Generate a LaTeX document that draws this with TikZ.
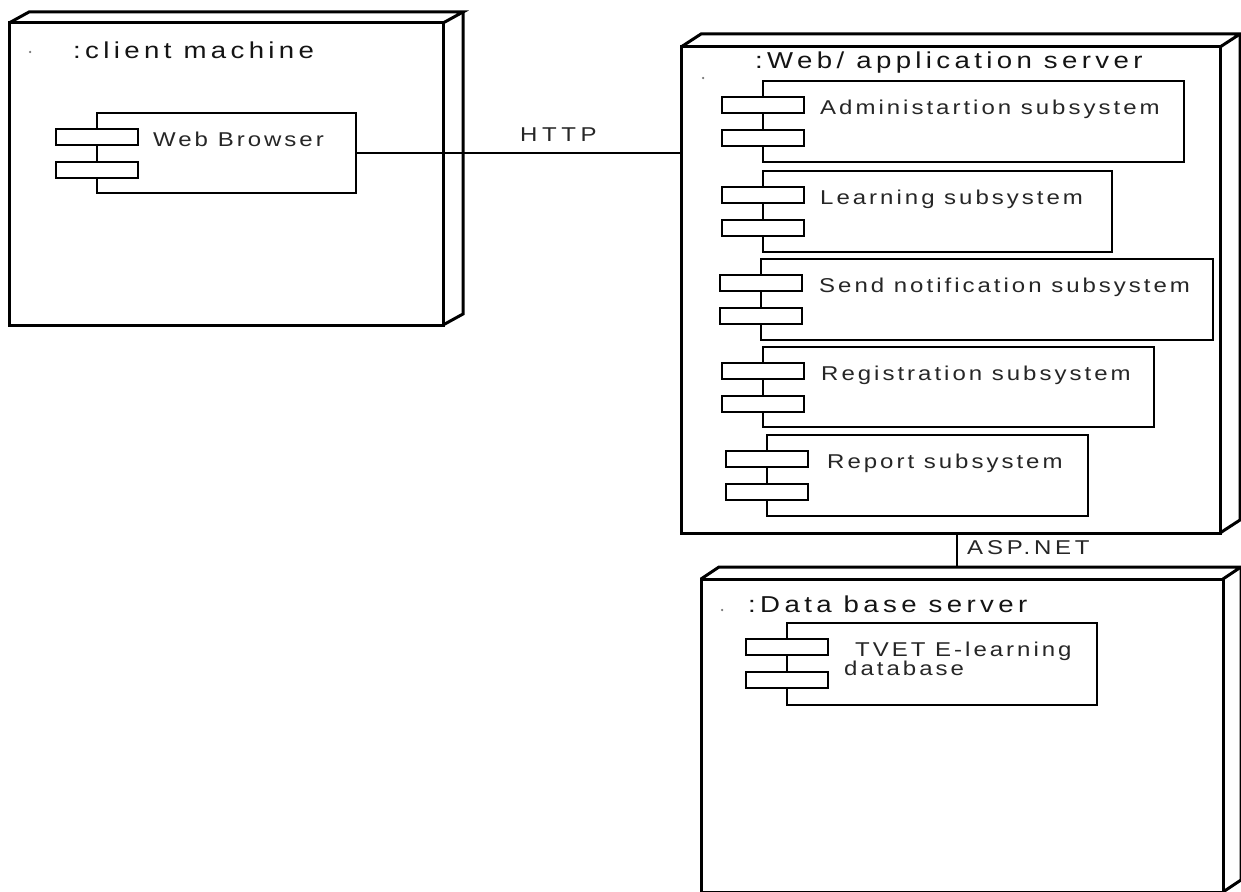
\documentclass[tikz,border=0pt]{standalone}
\usepackage{fontspec}
\setmainfont{Liberation Sans}
\definecolor{titleink}{HTML}{141414}
\definecolor{compink}{HTML}{262626}

\tikzset{
  frontface/.style={draw, line width=3pt, fill=white, anchor=north west,
    inner sep=0pt, outer sep=0pt},
  frame/.style={line width=3pt, line join=miter},
  compbody/.style={draw, line width=2.3pt, fill=white, anchor=north west,
    inner sep=0pt, outer sep=0pt},
  port/.style={draw, line width=2.3pt, fill=white, anchor=north west,
    minimum width=82pt, minimum height=16pt, inner sep=0pt, outer sep=0pt},
  comptext/.style={anchor=base west, inner sep=0pt, text=compink,
    font=\fontsize{20}{18}\selectfont\addfontfeature{FakeStretch=1.2,LetterSpace=15}},
  nodetitle/.style={anchor=base west, inner sep=0pt, text=titleink,
    font=\fontsize{23}{28}\selectfont\addfontfeature{FakeStretch=1.2,LetterSpace=19}},
  linklabel/.style={anchor=base west, inner sep=0pt, text=compink,
    font=\fontsize{20}{24}\selectfont\addfontfeature{FakeStretch=1.2,LetterSpace=19}},
  conn/.style={line width=2pt},
  dotmark/.style={circle, fill=black!55, inner sep=0pt, minimum size=2.5pt}
}

% deployment node: front face plus the top and right faces of the box
% #1 name, #2 x, #3 y (top-left), #4 width, #5 height, #6 depth x, #7 depth y
\newcommand\deploynode[7]{%
  \node[frontface, minimum width=#4pt, minimum height=#5pt] (#1) at (#2,#3) {};
  \coordinate (#1-bnw) at ([xshift=#6pt,yshift=#7pt]#1.north west);
  \coordinate (#1-bne) at ([xshift=#6pt,yshift=#7pt]#1.north east);
  \coordinate (#1-bse) at ([xshift=#6pt,yshift=#7pt]#1.south east);
  \draw[frame] (#1.north west) -- (#1-bnw) -- (#1-bne) -- (#1.north east);
  \draw[frame] (#1-bne) -- (#1-bse) -- (#1.south east);
}

% UML component: body, two ports on its left edge, and its name
% #1 name, #2 x, #3 y (top-left), #4 width, #5 height, #6 text, #7 text indent
\newcommand\umlcomp[7]{%
  \node[compbody, minimum width=#4pt, minimum height=#5pt] (#1) at (#2,#3) {};
  \node[port] (#1-p1) at ([xshift=-41pt,yshift=-16pt]#1.north west) {};
  \node[port] (#1-p2) at ([xshift=-41pt,yshift=-49pt]#1.north west) {};
  \node[comptext] (#1-t) at ([xshift=#7pt,yshift=-33pt]#1.north west) {#6};
}

\begin{document}
\begin{tikzpicture}[x=1pt, y=-1pt]
  \useasboundingbox (0,0) rectangle (1241,891);

  % client machine
  \deploynode{client}{9}{23}{434}{302}{20}{11}
  \node[dotmark] (client-dot) at (30,52) {};
  \node[nodetitle] (client-title) at (73,59) {:client machine};
  \umlcomp{wb}{97}{113}{259}{80}{Web Browser}{56}

  % web / application server
  \deploynode{web}{681}{47}{539}{486}{20}{13}
  \node[dotmark] (web-dot) at (703,78) {};
  \node[nodetitle] (web-title) at (755,68) {:Web/ application server};
  \umlcomp{adm}{763}{81}{421}{81}{Administartion subsystem}{57}
  \umlcomp{lrn}{763}{171}{349}{81}{Learning subsystem}{57}
  \umlcomp{snd}{761}{259}{452}{81}{Send notification subsystem}{58}
  \umlcomp{reg}{763}{347}{391}{80}{Registration subsystem}{58}
  \umlcomp{rep}{767}{435}{321}{81}{Report subsystem}{60}

  % database server
  \deploynode{db}{701}{579}{522}{313}{18}{12}
  \node[dotmark] (db-dot) at (722,610) {};
  \node[nodetitle] (db-title) at (748,612) {:Data base server};
  \umlcomp{tvet}{787}{623}{310}{82}{TVET E-learning}{68}
  \node[comptext] (tvet-t2) at ([xshift=57pt,yshift=-52pt]tvet.north west) {database};

  % communication paths
  \draw[conn] (wb.east) -- (wb.east -| web.west);
  \node[linklabel, font=\fontsize{20}{24}\selectfont\addfontfeature{FakeStretch=1.2,LetterSpace=23}]
    (http) at (520,141) {HTTP};

  \coordinate (asp-end) at ([xshift=-5pt]db-bnw -| db.north);
  \draw[conn] (asp-end |- web.south) -- (asp-end);
  \node[linklabel] (asp) at (967,554) {ASP.NET};
\end{tikzpicture}
\end{document}
